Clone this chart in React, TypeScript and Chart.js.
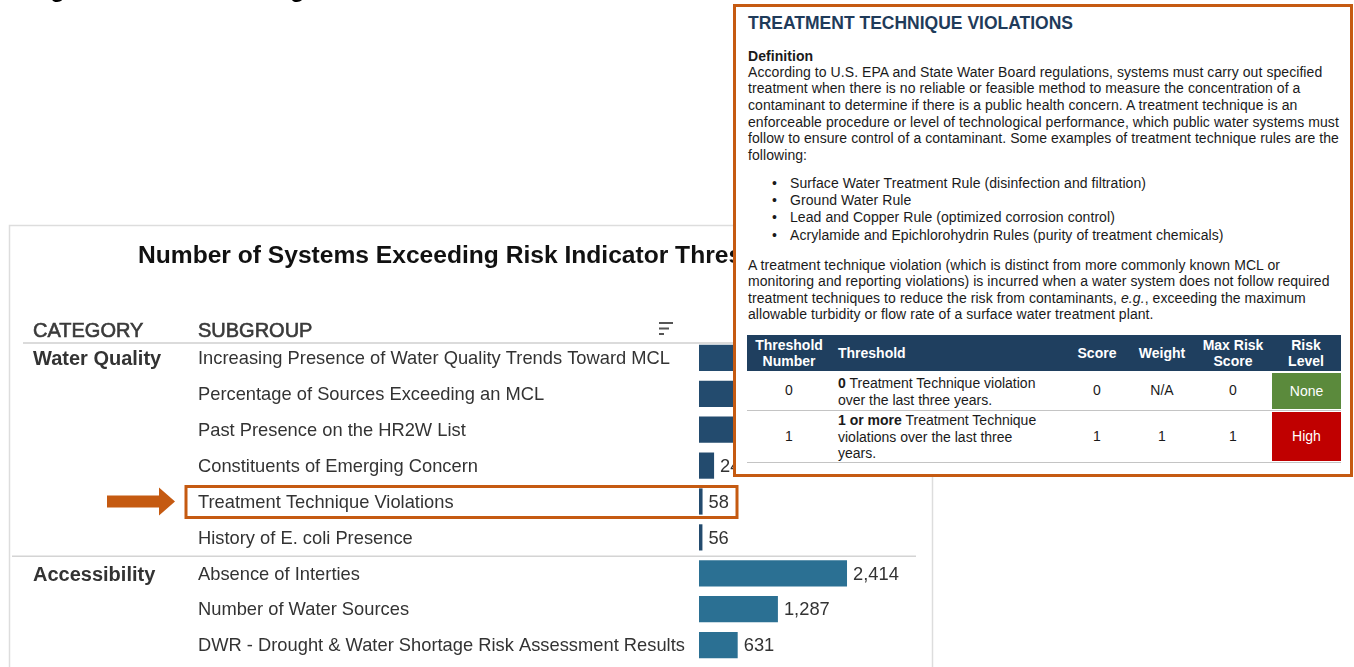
import React, { useEffect, useRef } from "react";
import { Chart, registerables } from "chart.js";

Chart.register(...registerables);

// ---------- data ----------
const figureCaption = "Figure 8: Table Showing Risk Indicator Definition";
const chartTitle = "Number of Systems Exceeding Risk Indicator Thresholds";
const columnHeaders = ["CATEGORY", "SUBGROUP"];
const categories = ["Water Quality", "Accessibility"];
const subgroups = [
  "Increasing Presence of Water Quality Trends Toward MCL",
  "Percentage of Sources Exceeding an MCL",
  "Past Presence on the HR2W List",
  "Constituents of Emerging Concern",
  "Treatment Technique Violations",
  "History of E. coli Presence",
  "Absence of Interties",
  "Number of Water Sources",
  "DWR - Drought & Water Shortage Risk Assessment Results",
];
const subgroupCategories = [
  "Water Quality",
  "Water Quality",
  "Water Quality",
  "Water Quality",
  "Water Quality",
  "Water Quality",
  "Accessibility",
  "Accessibility",
  "Accessibility",
];
const systemCounts = [1150, 960, 820, 246, 58, 56, 2414, 1287, 631];
const highlightedSubgroup = "Treatment Technique Violations";
const categoryColors = ["#234b6e", "#2b7093"];

const popupTitle = "TREATMENT TECHNIQUE VIOLATIONS";
const definitionLabel = "Definition";
const definitionLines = [
  "According to U.S. EPA and State Water Board regulations, systems must carry out specified",
  "treatment when there is no reliable or feasible method to measure the concentration of a",
  "contaminant to determine if there is a public health concern. A treatment technique is an",
  "enforceable procedure or level of technological performance, which public water systems must",
  "follow to ensure control of a contaminant. Some examples of treatment technique rules are the",
  "following:",
];
const ruleExamples = [
  "Surface Water Treatment Rule (disinfection and filtration)",
  "Ground Water Rule",
  "Lead and Copper Rule (optimized corrosion control)",
  "Acrylamide and Epichlorohydrin Rules (purity of treatment chemicals)",
];
const violationLines = [
  "A treatment technique violation (which is distinct from more commonly known MCL or",
  "monitoring and reporting violations) is incurred when a water system does not follow required",
  "treatment techniques to reduce the risk from contaminants, |e.g.|, exceeding the maximum",
  "allowable turbidity or flow rate of a surface water treatment plant.",
];
const tableHeaders = [
  ["Threshold", "Number"],
  ["Threshold"],
  ["Score"],
  ["Weight"],
  ["Max Risk", "Score"],
  ["Risk", "Level"],
];
const thresholdNumbers = ["0", "1"];
const thresholdBold = ["0", "1 or more"];
const thresholdText = [
  [" Treatment Technique violation", "over the last three years."],
  [" Treatment Technique", "violations over the last three", "years."],
];
const scores = ["0", "1"];
const weights = ["N/A", "1"];
const maxRiskScores = ["0", "1"];
const riskLevels = ["None", "High"];
const riskColors = ["#5b8a3c", "#c00000"];

// ---------- styles ----------
const FONT = "'Liberation Sans', Arial, Helvetica, sans-serif";
const ORANGE = "#c55a11";
const TEXT = "#333333";

function drawScaled(
  ctx: CanvasRenderingContext2D,
  text: string,
  x: number,
  y: number,
  sx: number
) {
  ctx.save();
  ctx.translate(x, y);
  ctx.scale(sx, 1);
  ctx.fillText(text, 0, 0);
  ctx.restore();
}

const panelPlugin = {
  id: "panelPlugin",
  beforeDraw(chart: any) {
    const ctx: CanvasRenderingContext2D = chart.ctx;
    const y = chart.scales.y;
    const area = chart.chartArea;
    ctx.save();
    ctx.fillStyle = "#ffffff";
    ctx.fillRect(0, 0, chart.width, chart.height);

    // caption (cut off at top)
    ctx.fillStyle = "#000";
    ctx.font = `bold 24px ${FONT}`;
    ctx.textBaseline = "alphabetic";
    ctx.textAlign = "left";
    ctx.fillText(figureCaption, 29, -3);

    // panel border
    ctx.strokeStyle = "#dddddd";
    ctx.lineWidth = 1.5;
    ctx.strokeRect(9.5, 225.5, 923, 600);

    // title
    ctx.fillStyle = "#111";
    ctx.font = `bold 24.6px ${FONT}`;
    ctx.textBaseline = "middle";
    ctx.fillText(chartTitle, 138, 256);

    // headers (medium weight)
    ctx.fillStyle = "#3a3a3a";
    ctx.strokeStyle = "#3a3a3a";
    ctx.lineWidth = 0.6;
    ctx.font = `20px ${FONT}`;
    ctx.fillText(columnHeaders[0], 33, 331);
    ctx.strokeText(columnHeaders[0], 33, 331);
    ctx.fillText(columnHeaders[1], 198, 331);
    ctx.strokeText(columnHeaders[1], 198, 331);

    // sort icon
    ctx.strokeStyle = "#555";
    ctx.lineWidth = 2;
    ctx.beginPath();
    ctx.moveTo(659, 323);
    ctx.lineTo(673, 323);
    ctx.moveTo(659, 328.5);
    ctx.lineTo(669, 328.5);
    ctx.moveTo(659, 334);
    ctx.lineTo(664, 334);
    ctx.stroke();

    // header underline
    ctx.strokeStyle = "#cfcfcf";
    ctx.lineWidth = 1.5;
    ctx.beginPath();
    ctx.moveTo(23, area.top + 3);
    ctx.lineTo(916, area.top + 3);
    ctx.stroke();

    // subgroup labels
    ctx.font = `19px ${FONT}`;
    const narrow = 472 / ctx.measureText(subgroups[0]).width;
    chart._narrow = narrow;
    ctx.fillStyle = TEXT;
    subgroups.forEach((s, i) => {
      drawScaled(ctx, s, 198, y.getPixelForValue(i) + 1, narrow);
    });

    // category labels and separators
    ctx.font = `bold 20px ${FONT}`;
    categories.forEach((c, ci) => {
      const first = subgroupCategories.indexOf(c);
      ctx.fillStyle = TEXT;
      ctx.fillText(c, 33, y.getPixelForValue(first) + 2);
      if (ci > 0) {
        const sep = (y.getPixelForValue(first - 1) + y.getPixelForValue(first)) / 2;
        ctx.strokeStyle = "#d4d4d4";
        ctx.lineWidth = 1.5;
        ctx.beginPath();
        ctx.moveTo(12, sep + 1);
        ctx.lineTo(916, sep + 1);
        ctx.stroke();
      }
    });
    ctx.restore();
  },
  afterDatasetsDraw(chart: any) {
    const ctx: CanvasRenderingContext2D = chart.ctx;
    const meta = chart.getDatasetMeta(0);
    const y = chart.scales.y;
    ctx.save();
    ctx.font = `19px ${FONT}`;
    ctx.fillStyle = TEXT;
    ctx.textBaseline = "middle";
    ctx.textAlign = "left";
    const narrow = chart._narrow || 0.95;
    meta.data.forEach((bar: any, i: number) => {
      drawScaled(
        ctx,
        systemCounts[i].toLocaleString("en-US"),
        bar.x + 6,
        bar.y + 1,
        narrow
      );
    });

    // highlight
    const hi = subgroups.indexOf(highlightedSubgroup);
    const yc = y.getPixelForValue(hi);
    ctx.strokeStyle = ORANGE;
    ctx.lineWidth = 3;
    ctx.strokeRect(186, yc - 15, 551, 31);

    // arrow
    ctx.fillStyle = ORANGE;
    ctx.beginPath();
    ctx.moveTo(107, yc - 6);
    ctx.lineTo(159, yc - 6);
    ctx.lineTo(159, yc - 14);
    ctx.lineTo(175, yc);
    ctx.lineTo(159, yc + 14);
    ctx.lineTo(159, yc + 6);
    ctx.lineTo(107, yc + 6);
    ctx.closePath();
    ctx.fill();
    ctx.restore();
  },
};

// popup coordinate helpers (absolute page coords -> popup inner coords)
const PX = 736;
const PY = 7;
const colEdges = [747, 831, 1065, 1129, 1195, 1271, 1341];
const headerTop = 335;
const rowEdges = [371, 410, 462];

function renderItalic(line: string) {
  const parts = line.split("|");
  return parts.map((p, i) =>
    i % 2 === 1 ? <i key={i}>{p}</i> : <span key={i}>{p}</span>
  );
}

function Popup() {
  const lineStyle = (top: number, lh: number): React.CSSProperties => ({
    position: "absolute",
    left: 748 - PX,
    top: top - lh / 2 - PY,
    height: lh,
    lineHeight: `${lh}px`,
    whiteSpace: "nowrap",
    fontSize: 14,
    letterSpacing: "0.07px",
  });
  const cols = colEdges.slice(0, -1).map((x, i) => ({ x, w: colEdges[i + 1] - x }));
  const rowCells = [thresholdNumbers, null, scores, weights, maxRiskScores];
  return (
    <div
      style={{
        position: "absolute",
        left: 733,
        top: 4,
        width: 620,
        height: 473,
        border: `3px solid ${ORANGE}`,
        boxSizing: "border-box",
        background: "#ffffff",
        fontFamily: FONT,
        color: "#1a1a1a",
      }}
    >
      <div
        style={{
          position: "absolute",
          left: 748 - PX,
          top: 23 - 10 - PY,
          fontSize: 17.5,
          lineHeight: "20px",
          fontWeight: "bold",
          color: "#1f3b5a",
          whiteSpace: "nowrap",
        }}
      >
        {popupTitle}
      </div>
      <div style={{ ...lineStyle(56, 16.6), fontWeight: "bold" }}>{definitionLabel}</div>
      {definitionLines.map((l, i) => (
        <div key={"d" + i} style={lineStyle(72 + i * 16.6, 16.6)}>
          {l}
        </div>
      ))}
      {ruleExamples.map((l, i) => (
        <React.Fragment key={"r" + i}>
          <div style={{ ...lineStyle(183 + i * 17.4, 17), left: 772 - PX }}>•</div>
          <div style={{ ...lineStyle(183 + i * 17.4, 17), left: 790 - PX }}>{l}</div>
        </React.Fragment>
      ))}
      {violationLines.map((l, i) => (
        <div key={"v" + i} style={lineStyle(265 + i * 16.5, 16.5)}>
          {renderItalic(l)}
        </div>
      ))}
      {/* table header */}
      <div
        style={{
          position: "absolute",
          left: colEdges[0] - PX,
          top: headerTop - PY,
          width: colEdges[6] - colEdges[0],
          height: rowEdges[0] - headerTop,
          background: "#1f3f5f",
        }}
      />
      {cols.map((c, i) => (
        <div
          key={"h" + i}
          style={{
            position: "absolute",
            left: c.x - PX,
            top: headerTop - PY,
            width: c.w,
            height: rowEdges[0] - headerTop,
            display: "flex",
            flexDirection: "column",
            justifyContent: "center",
            alignItems: i === 1 ? "flex-start" : "center",
            paddingLeft: i === 1 ? 7 : 0,
            boxSizing: "border-box",
            color: "#ffffff",
            fontWeight: "bold",
            fontSize: 14,
            lineHeight: "16px",
            textAlign: "center",
          }}
        >
          {tableHeaders[i].map((t, k) => (
            <div key={k}>{t}</div>
          ))}
        </div>
      ))}
      {/* rows */}
      {thresholdNumbers.map((_, r) => {
        const top = rowEdges[r];
        const h = rowEdges[r + 1] - top;
        return (
          <React.Fragment key={"row" + r}>
            <div
              style={{
                position: "absolute",
                left: colEdges[0] - PX,
                top: rowEdges[r + 1] - PY - 0.5,
                width: colEdges[6] - colEdges[0],
                height: 1.5,
                background: "#c4c4c4",
              }}
            />
            {cols.map((c, i) => {
              const base: React.CSSProperties = {
                position: "absolute",
                left: c.x - PX,
                top: top - PY,
                width: c.w,
                height: h,
                display: "flex",
                flexDirection: "column",
                justifyContent: "center",
                alignItems: "center",
                fontSize: 14,
                lineHeight: "16.5px",
                boxSizing: "border-box",
              };
              if (i === 1) {
                return (
                  <div
                    key={i}
                    style={{ ...base, alignItems: "flex-start", paddingLeft: 7, paddingTop: 2 }}
                  >
                    {thresholdText[r].map((t, k) => (
                      <div key={k} style={{ whiteSpace: "nowrap" }}>
                        {k === 0 ? <b>{thresholdBold[r]}</b> : null}
                        {t}
                      </div>
                    ))}
                  </div>
                );
              }
              if (i === 5) {
                return (
                  <div
                    key={i}
                    style={{
                      ...base,
                      top: top - PY + 1.5,
                      height: h - 2.5,
                      left: c.x - PX + 1,
                      width: c.w - 1,
                      background: riskColors[r],
                      color: "#ffffff",
                    }}
                  >
                    {riskLevels[r]}
                  </div>
                );
              }
              const vals = rowCells[i] as string[];
              return (
                <div key={i} style={base}>
                  {vals[r]}
                </div>
              );
            })}
          </React.Fragment>
        );
      })}
    </div>
  );
}

export default function App() {
  const canvasRef = useRef<HTMLCanvasElement | null>(null);
  useEffect(() => {
    const canvas = canvasRef.current;
    if (!canvas) return;
    const chart = new Chart(canvas, {
      type: "bar",
      data: {
        labels: subgroups,
        datasets: [
          {
            data: systemCounts,
            backgroundColor: subgroupCategories.map(
              (c) => categoryColors[categories.indexOf(c)]
            ),
            borderWidth: 0,
            barPercentage: 0.73,
            categoryPercentage: 1,
          },
        ],
      },
      options: {
        indexAxis: "y",
        responsive: false,
        animation: false,
        devicePixelRatio: 1,
        events: [],
        layout: { padding: { left: 699, right: 422, top: 340, bottom: 4 } },
        scales: {
          x: { display: false, min: 0, max: 3800 },
          y: { display: false },
        },
        plugins: {
          legend: { display: false },
          tooltip: { enabled: false },
          title: { display: false },
        },
      },
      plugins: [panelPlugin],
    } as any);
    return () => chart.destroy();
  }, []);

  return (
    <div
      style={{
        position: "absolute",
        left: 0,
        top: 0,
        width: 1354,
        height: 667,
        overflow: "hidden",
        background: "#ffffff",
      }}
    >
      <canvas
        ref={canvasRef}
        width={1354}
        height={667}
        style={{ position: "absolute", left: 0, top: 0, width: 1354, height: 667 }}
      />
      <Popup />
    </div>
  );
}
